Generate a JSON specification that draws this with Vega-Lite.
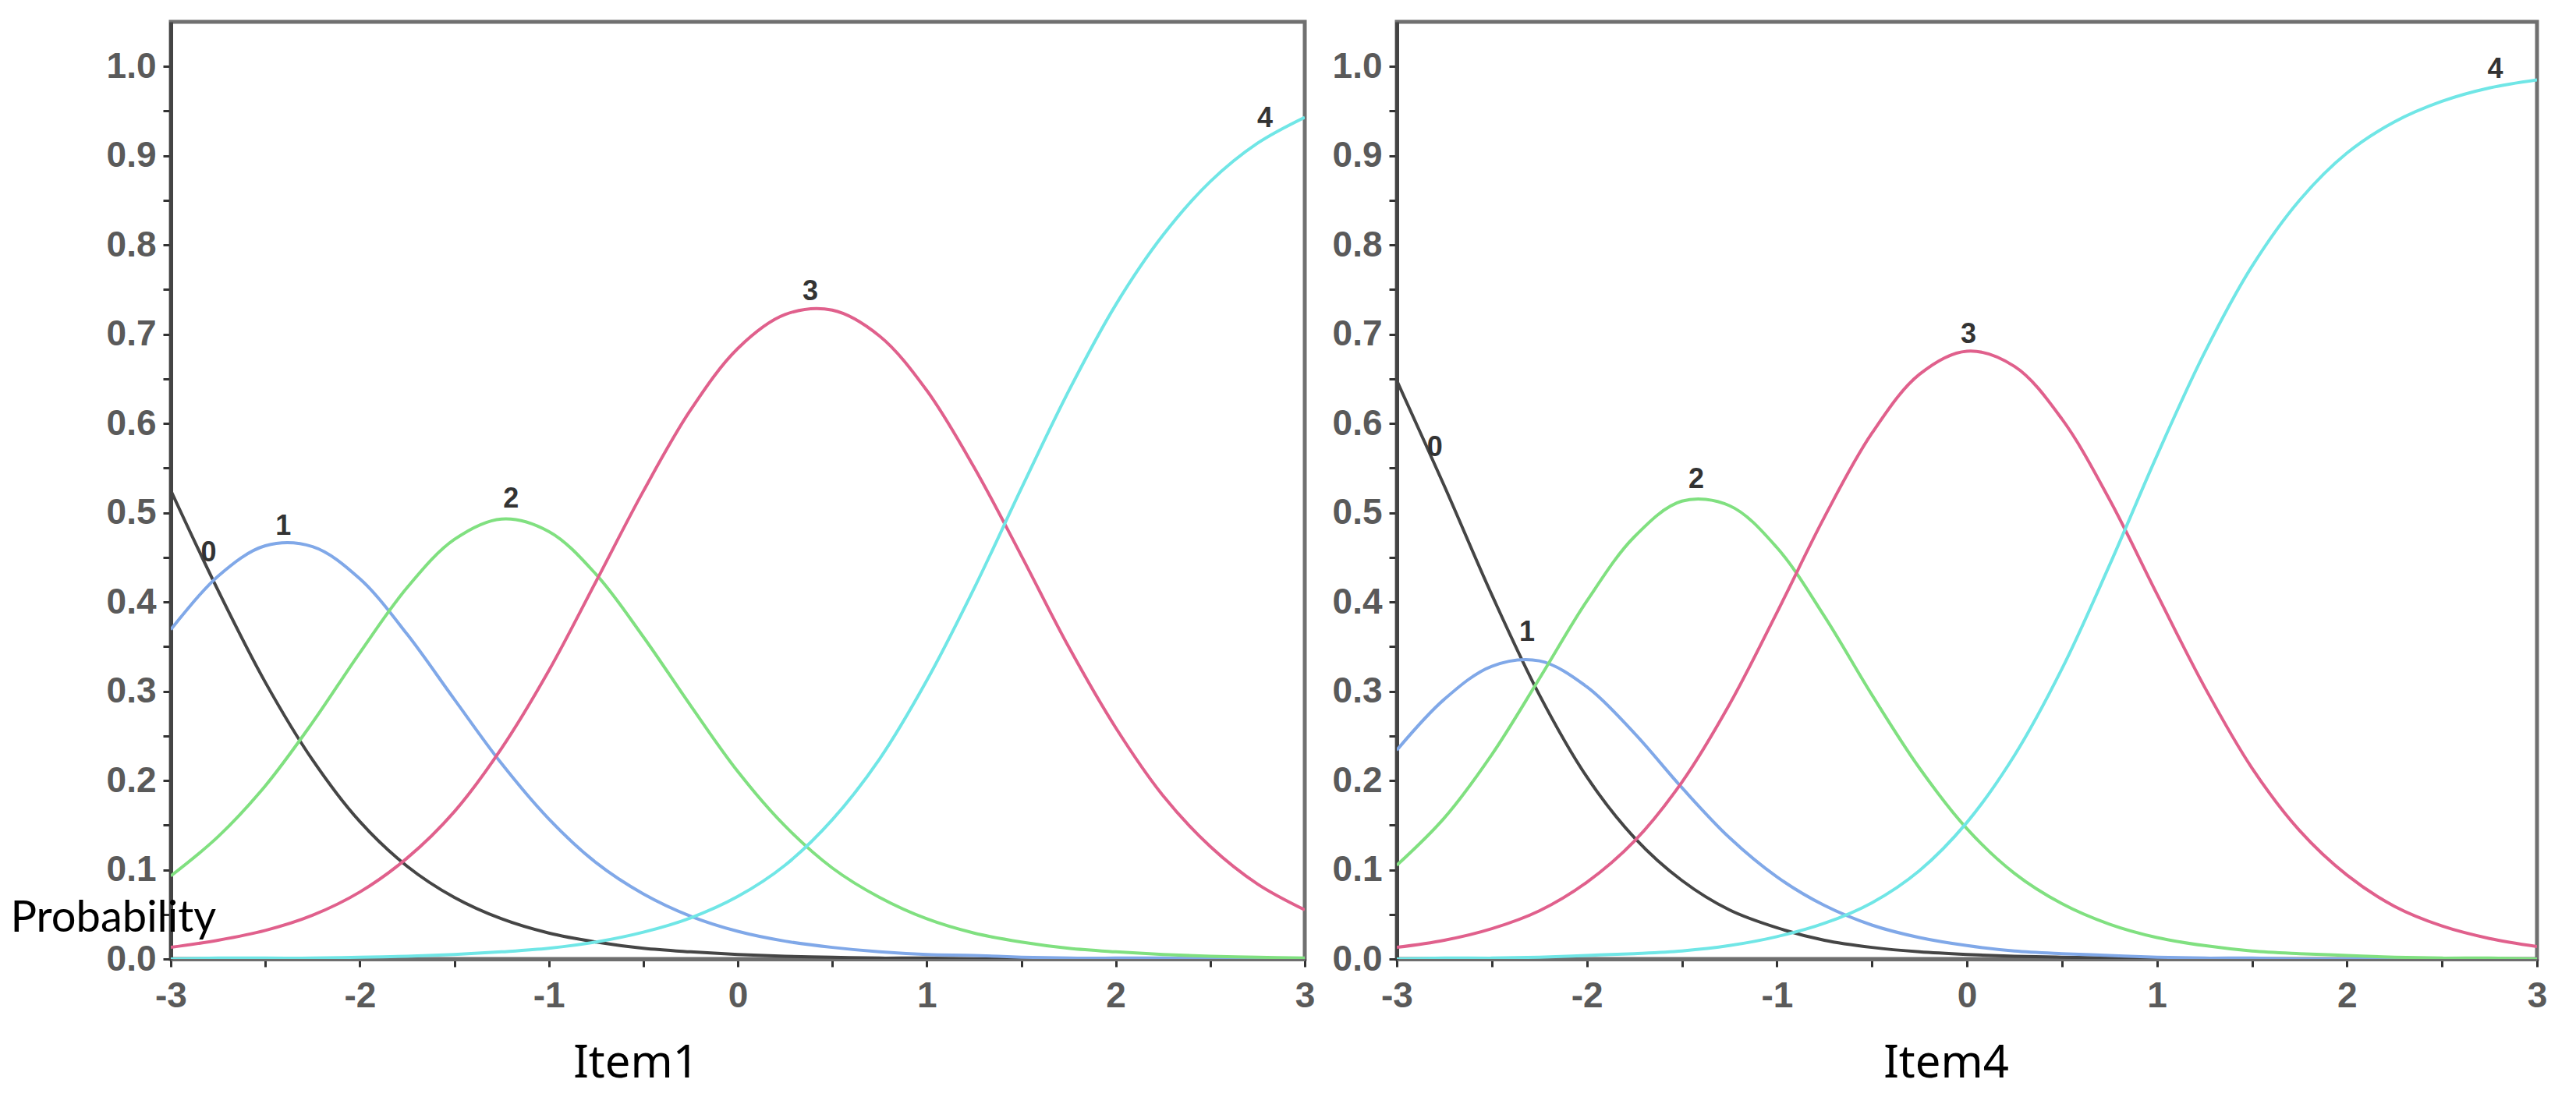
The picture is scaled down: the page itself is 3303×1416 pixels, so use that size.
{
  "$schema": "https://vega.github.io/schema/vega-lite/v6.json",
  "padding": {"left": 10, "top": 25, "right": 10, "bottom": 5},
  "autosize": {"type": "pad"},
  "background": "white",
  "spacing": 118,
  "bounds": "flush",
  "datasets": {
    "curves": [
      {"item":"Item1","cat":"0","theta":-3,"p":0.525},{"item":"Item1","cat":"0","theta":-2.75,"p":0.413},{"item":"Item1","cat":"0","theta":-2.5,"p":0.310},{"item":"Item1","cat":"0","theta":-2.25,"p":0.223},{"item":"Item1","cat":"0","theta":-2,"p":0.154},{"item":"Item1","cat":"0","theta":-1.75,"p":0.104},{"item":"Item1","cat":"0","theta":-1.5,"p":0.069},{"item":"Item1","cat":"0","theta":-1.25,"p":0.045},{"item":"Item1","cat":"0","theta":-1,"p":0.029},{"item":"Item1","cat":"0","theta":-0.75,"p":0.019},{"item":"Item1","cat":"0","theta":-0.5,"p":0.012},{"item":"Item1","cat":"0","theta":-0.25,"p":0.008},{"item":"Item1","cat":"0","theta":0,"p":0.005},{"item":"Item1","cat":"0","theta":0.25,"p":0.003},{"item":"Item1","cat":"0","theta":0.5,"p":0.002},{"item":"Item1","cat":"0","theta":0.75,"p":0.001},{"item":"Item1","cat":"0","theta":1,"p":0.001},{"item":"Item1","cat":"0","theta":1.25,"p":0.0},{"item":"Item1","cat":"0","theta":1.5,"p":0.0},{"item":"Item1","cat":"0","theta":1.75,"p":0.0},{"item":"Item1","cat":"0","theta":2,"p":0.0},{"item":"Item1","cat":"0","theta":2.25,"p":0.0},{"item":"Item1","cat":"0","theta":2.5,"p":0.0},{"item":"Item1","cat":"0","theta":2.75,"p":0.0},{"item":"Item1","cat":"0","theta":3,"p":0.0},
      {"item":"Item1","cat":"1","theta":-3,"p":0.369},{"item":"Item1","cat":"1","theta":-2.75,"p":0.429},{"item":"Item1","cat":"1","theta":-2.5,"p":0.463},{"item":"Item1","cat":"1","theta":-2.25,"p":0.462},{"item":"Item1","cat":"1","theta":-2,"p":0.426},{"item":"Item1","cat":"1","theta":-1.75,"p":0.364},{"item":"Item1","cat":"1","theta":-1.5,"p":0.291},{"item":"Item1","cat":"1","theta":-1.25,"p":0.219},{"item":"Item1","cat":"1","theta":-1,"p":0.157},{"item":"Item1","cat":"1","theta":-0.75,"p":0.108},{"item":"Item1","cat":"1","theta":-0.5,"p":0.073},{"item":"Item1","cat":"1","theta":-0.25,"p":0.048},{"item":"Item1","cat":"1","theta":0,"p":0.031},{"item":"Item1","cat":"1","theta":0.25,"p":0.020},{"item":"Item1","cat":"1","theta":0.5,"p":0.013},{"item":"Item1","cat":"1","theta":0.75,"p":0.008},{"item":"Item1","cat":"1","theta":1,"p":0.005},{"item":"Item1","cat":"1","theta":1.25,"p":0.004},{"item":"Item1","cat":"1","theta":1.5,"p":0.002},{"item":"Item1","cat":"1","theta":1.75,"p":0.001},{"item":"Item1","cat":"1","theta":2,"p":0.001},{"item":"Item1","cat":"1","theta":2.25,"p":0.001},{"item":"Item1","cat":"1","theta":2.5,"p":0.0},{"item":"Item1","cat":"1","theta":2.75,"p":0.0},{"item":"Item1","cat":"1","theta":3,"p":0.0},
      {"item":"Item1","cat":"2","theta":-3,"p":0.093},{"item":"Item1","cat":"2","theta":-2.75,"p":0.137},{"item":"Item1","cat":"2","theta":-2.5,"p":0.194},{"item":"Item1","cat":"2","theta":-2.25,"p":0.265},{"item":"Item1","cat":"2","theta":-2,"p":0.343},{"item":"Item1","cat":"2","theta":-1.75,"p":0.416},{"item":"Item1","cat":"2","theta":-1.5,"p":0.470},{"item":"Item1","cat":"2","theta":-1.25,"p":0.493},{"item":"Item1","cat":"2","theta":-1,"p":0.479},{"item":"Item1","cat":"2","theta":-0.75,"p":0.431},{"item":"Item1","cat":"2","theta":-0.5,"p":0.361},{"item":"Item1","cat":"2","theta":-0.25,"p":0.284},{"item":"Item1","cat":"2","theta":0,"p":0.210},{"item":"Item1","cat":"2","theta":0.25,"p":0.149},{"item":"Item1","cat":"2","theta":0.5,"p":0.102},{"item":"Item1","cat":"2","theta":0.75,"p":0.069},{"item":"Item1","cat":"2","theta":1,"p":0.045},{"item":"Item1","cat":"2","theta":1.25,"p":0.029},{"item":"Item1","cat":"2","theta":1.5,"p":0.019},{"item":"Item1","cat":"2","theta":1.75,"p":0.012},{"item":"Item1","cat":"2","theta":2,"p":0.008},{"item":"Item1","cat":"2","theta":2.25,"p":0.005},{"item":"Item1","cat":"2","theta":2.5,"p":0.003},{"item":"Item1","cat":"2","theta":2.75,"p":0.002},{"item":"Item1","cat":"2","theta":3,"p":0.001},
      {"item":"Item1","cat":"3","theta":-3,"p":0.013},{"item":"Item1","cat":"3","theta":-2.75,"p":0.021},{"item":"Item1","cat":"3","theta":-2.5,"p":0.032},{"item":"Item1","cat":"3","theta":-2.25,"p":0.049},{"item":"Item1","cat":"3","theta":-2,"p":0.075},{"item":"Item1","cat":"3","theta":-1.75,"p":0.113},{"item":"Item1","cat":"3","theta":-1.5,"p":0.165},{"item":"Item1","cat":"3","theta":-1.25,"p":0.236},{"item":"Item1","cat":"3","theta":-1,"p":0.323},{"item":"Item1","cat":"3","theta":-0.75,"p":0.423},{"item":"Item1","cat":"3","theta":-0.5,"p":0.524},{"item":"Item1","cat":"3","theta":-0.25,"p":0.615},{"item":"Item1","cat":"3","theta":0,"p":0.684},{"item":"Item1","cat":"3","theta":0.25,"p":0.722},{"item":"Item1","cat":"3","theta":0.5,"p":0.727},{"item":"Item1","cat":"3","theta":0.75,"p":0.698},{"item":"Item1","cat":"3","theta":1,"p":0.637},{"item":"Item1","cat":"3","theta":1.25,"p":0.551},{"item":"Item1","cat":"3","theta":1.5,"p":0.452},{"item":"Item1","cat":"3","theta":1.75,"p":0.350},{"item":"Item1","cat":"3","theta":2,"p":0.259},{"item":"Item1","cat":"3","theta":2.25,"p":0.183},{"item":"Item1","cat":"3","theta":2.5,"p":0.126},{"item":"Item1","cat":"3","theta":2.75,"p":0.084},{"item":"Item1","cat":"3","theta":3,"p":0.055},
      {"item":"Item1","cat":"4","theta":-3,"p":0.0},{"item":"Item1","cat":"4","theta":-2.75,"p":0.001},{"item":"Item1","cat":"4","theta":-2.5,"p":0.001},{"item":"Item1","cat":"4","theta":-2.25,"p":0.001},{"item":"Item1","cat":"4","theta":-2,"p":0.002},{"item":"Item1","cat":"4","theta":-1.75,"p":0.003},{"item":"Item1","cat":"4","theta":-1.5,"p":0.005},{"item":"Item1","cat":"4","theta":-1.25,"p":0.008},{"item":"Item1","cat":"4","theta":-1,"p":0.012},{"item":"Item1","cat":"4","theta":-0.75,"p":0.019},{"item":"Item1","cat":"4","theta":-0.5,"p":0.030},{"item":"Item1","cat":"4","theta":-0.25,"p":0.046},{"item":"Item1","cat":"4","theta":0,"p":0.070},{"item":"Item1","cat":"4","theta":0.25,"p":0.105},{"item":"Item1","cat":"4","theta":0.5,"p":0.156},{"item":"Item1","cat":"4","theta":0.75,"p":0.224},{"item":"Item1","cat":"4","theta":1,"p":0.312},{"item":"Item1","cat":"4","theta":1.25,"p":0.415},{"item":"Item1","cat":"4","theta":1.5,"p":0.527},{"item":"Item1","cat":"4","theta":1.75,"p":0.636},{"item":"Item1","cat":"4","theta":2,"p":0.733},{"item":"Item1","cat":"4","theta":2.25,"p":0.811},{"item":"Item1","cat":"4","theta":2.5,"p":0.871},{"item":"Item1","cat":"4","theta":2.75,"p":0.914},{"item":"Item1","cat":"4","theta":3,"p":0.943},
      {"item":"Item4","cat":"0","theta":-3,"p":0.648},{"item":"Item4","cat":"0","theta":-2.75,"p":0.530},{"item":"Item4","cat":"0","theta":-2.5,"p":0.408},{"item":"Item4","cat":"0","theta":-2.25,"p":0.296},{"item":"Item4","cat":"0","theta":-2,"p":0.204},{"item":"Item4","cat":"0","theta":-1.75,"p":0.136},{"item":"Item4","cat":"0","theta":-1.5,"p":0.088},{"item":"Item4","cat":"0","theta":-1.25,"p":0.055},{"item":"Item4","cat":"0","theta":-1,"p":0.035},{"item":"Item4","cat":"0","theta":-0.75,"p":0.021},{"item":"Item4","cat":"0","theta":-0.5,"p":0.013},{"item":"Item4","cat":"0","theta":-0.25,"p":0.008},{"item":"Item4","cat":"0","theta":0,"p":0.005},{"item":"Item4","cat":"0","theta":0.25,"p":0.003},{"item":"Item4","cat":"0","theta":0.5,"p":0.002},{"item":"Item4","cat":"0","theta":0.75,"p":0.001},{"item":"Item4","cat":"0","theta":1,"p":0.001},{"item":"Item4","cat":"0","theta":1.25,"p":0.0},{"item":"Item4","cat":"0","theta":1.5,"p":0.0},{"item":"Item4","cat":"0","theta":1.75,"p":0.0},{"item":"Item4","cat":"0","theta":2,"p":0.0},{"item":"Item4","cat":"0","theta":2.25,"p":0.0},{"item":"Item4","cat":"0","theta":2.5,"p":0.0},{"item":"Item4","cat":"0","theta":2.75,"p":0.0},{"item":"Item4","cat":"0","theta":3,"p":0.0},
      {"item":"Item4","cat":"1","theta":-3,"p":0.234},{"item":"Item4","cat":"1","theta":-2.75,"p":0.291},{"item":"Item4","cat":"1","theta":-2.5,"p":0.328},{"item":"Item4","cat":"1","theta":-2.25,"p":0.334},{"item":"Item4","cat":"1","theta":-2,"p":0.305},{"item":"Item4","cat":"1","theta":-1.75,"p":0.253},{"item":"Item4","cat":"1","theta":-1.5,"p":0.192},{"item":"Item4","cat":"1","theta":-1.25,"p":0.136},{"item":"Item4","cat":"1","theta":-1,"p":0.092},{"item":"Item4","cat":"1","theta":-0.75,"p":0.060},{"item":"Item4","cat":"1","theta":-0.5,"p":0.038},{"item":"Item4","cat":"1","theta":-0.25,"p":0.024},{"item":"Item4","cat":"1","theta":0,"p":0.015},{"item":"Item4","cat":"1","theta":0.25,"p":0.009},{"item":"Item4","cat":"1","theta":0.5,"p":0.006},{"item":"Item4","cat":"1","theta":0.75,"p":0.004},{"item":"Item4","cat":"1","theta":1,"p":0.002},{"item":"Item4","cat":"1","theta":1.25,"p":0.001},{"item":"Item4","cat":"1","theta":1.5,"p":0.001},{"item":"Item4","cat":"1","theta":1.75,"p":0.0},{"item":"Item4","cat":"1","theta":2,"p":0.0},{"item":"Item4","cat":"1","theta":2.25,"p":0.0},{"item":"Item4","cat":"1","theta":2.5,"p":0.0},{"item":"Item4","cat":"1","theta":2.75,"p":0.0},{"item":"Item4","cat":"1","theta":3,"p":0.0},
      {"item":"Item4","cat":"2","theta":-3,"p":0.105},{"item":"Item4","cat":"2","theta":-2.75,"p":0.158},{"item":"Item4","cat":"2","theta":-2.5,"p":0.229},{"item":"Item4","cat":"2","theta":-2.25,"p":0.314},{"item":"Item4","cat":"2","theta":-2,"p":0.401},{"item":"Item4","cat":"2","theta":-1.75,"p":0.473},{"item":"Item4","cat":"2","theta":-1.5,"p":0.513},{"item":"Item4","cat":"2","theta":-1.25,"p":0.508},{"item":"Item4","cat":"2","theta":-1,"p":0.461},{"item":"Item4","cat":"2","theta":-0.75,"p":0.384},{"item":"Item4","cat":"2","theta":-0.5,"p":0.296},{"item":"Item4","cat":"2","theta":-0.25,"p":0.214},{"item":"Item4","cat":"2","theta":0,"p":0.146},{"item":"Item4","cat":"2","theta":0.25,"p":0.096},{"item":"Item4","cat":"2","theta":0.5,"p":0.062},{"item":"Item4","cat":"2","theta":0.75,"p":0.039},{"item":"Item4","cat":"2","theta":1,"p":0.024},{"item":"Item4","cat":"2","theta":1.25,"p":0.015},{"item":"Item4","cat":"2","theta":1.5,"p":0.009},{"item":"Item4","cat":"2","theta":1.75,"p":0.006},{"item":"Item4","cat":"2","theta":2,"p":0.004},{"item":"Item4","cat":"2","theta":2.25,"p":0.002},{"item":"Item4","cat":"2","theta":2.5,"p":0.001},{"item":"Item4","cat":"2","theta":2.75,"p":0.001},{"item":"Item4","cat":"2","theta":3,"p":0.0},
      {"item":"Item4","cat":"3","theta":-3,"p":0.013},{"item":"Item4","cat":"3","theta":-2.75,"p":0.021},{"item":"Item4","cat":"3","theta":-2.5,"p":0.034},{"item":"Item4","cat":"3","theta":-2.25,"p":0.054},{"item":"Item4","cat":"3","theta":-2,"p":0.086},{"item":"Item4","cat":"3","theta":-1.75,"p":0.132},{"item":"Item4","cat":"3","theta":-1.5,"p":0.198},{"item":"Item4","cat":"3","theta":-1.25,"p":0.285},{"item":"Item4","cat":"3","theta":-1,"p":0.388},{"item":"Item4","cat":"3","theta":-0.75,"p":0.495},{"item":"Item4","cat":"3","theta":-0.5,"p":0.589},{"item":"Item4","cat":"3","theta":-0.25,"p":0.655},{"item":"Item4","cat":"3","theta":0,"p":0.681},{"item":"Item4","cat":"3","theta":0.25,"p":0.664},{"item":"Item4","cat":"3","theta":0.5,"p":0.605},{"item":"Item4","cat":"3","theta":0.75,"p":0.515},{"item":"Item4","cat":"3","theta":1,"p":0.409},{"item":"Item4","cat":"3","theta":1.25,"p":0.305},{"item":"Item4","cat":"3","theta":1.5,"p":0.214},{"item":"Item4","cat":"3","theta":1.75,"p":0.144},{"item":"Item4","cat":"3","theta":2,"p":0.094},{"item":"Item4","cat":"3","theta":2.25,"p":0.059},{"item":"Item4","cat":"3","theta":2.5,"p":0.037},{"item":"Item4","cat":"3","theta":2.75,"p":0.023},{"item":"Item4","cat":"3","theta":3,"p":0.014},
      {"item":"Item4","cat":"4","theta":-3,"p":0.0},{"item":"Item4","cat":"4","theta":-2.75,"p":0.001},{"item":"Item4","cat":"4","theta":-2.5,"p":0.001},{"item":"Item4","cat":"4","theta":-2.25,"p":0.002},{"item":"Item4","cat":"4","theta":-2,"p":0.004},{"item":"Item4","cat":"4","theta":-1.75,"p":0.006},{"item":"Item4","cat":"4","theta":-1.5,"p":0.009},{"item":"Item4","cat":"4","theta":-1.25,"p":0.015},{"item":"Item4","cat":"4","theta":-1,"p":0.025},{"item":"Item4","cat":"4","theta":-0.75,"p":0.040},{"item":"Item4","cat":"4","theta":-0.5,"p":0.063},{"item":"Item4","cat":"4","theta":-0.25,"p":0.099},{"item":"Item4","cat":"4","theta":0,"p":0.153},{"item":"Item4","cat":"4","theta":0.25,"p":0.228},{"item":"Item4","cat":"4","theta":0.5,"p":0.325},{"item":"Item4","cat":"4","theta":0.75,"p":0.441},{"item":"Item4","cat":"4","theta":1,"p":0.564},{"item":"Item4","cat":"4","theta":1.25,"p":0.679},{"item":"Item4","cat":"4","theta":1.5,"p":0.776},{"item":"Item4","cat":"4","theta":1.75,"p":0.850},{"item":"Item4","cat":"4","theta":2,"p":0.903},{"item":"Item4","cat":"4","theta":2.25,"p":0.938},{"item":"Item4","cat":"4","theta":2.5,"p":0.961},{"item":"Item4","cat":"4","theta":2.75,"p":0.976},{"item":"Item4","cat":"4","theta":3,"p":0.985}
    ],
    "labels": [
      {"item":"Item1","cat":"0","theta":-2.8,"p":0.455},
      {"item":"Item1","cat":"1","theta":-2.405,"p":0.485},
      {"item":"Item1","cat":"2","theta":-1.2,"p":0.515},
      {"item":"Item1","cat":"3","theta":0.384,"p":0.748},
      {"item":"Item1","cat":"4","theta":2.79,"p":0.942},
      {"item":"Item4","cat":"0","theta":-2.8,"p":0.573},
      {"item":"Item4","cat":"1","theta":-2.315,"p":0.366},
      {"item":"Item4","cat":"2","theta":-1.424,"p":0.537},
      {"item":"Item4","cat":"3","theta":0.008,"p":0.70},
      {"item":"Item4","cat":"4","theta":2.78,"p":0.997}
    ]
  },
  "hconcat": [
    {
      "width": 1454,
      "height": 1202,
      "layer": [
        {
          "data": {"name": "curves"},
          "transform": [{"filter": "datum.item == 'Item1'"}],
          "mark": {"type": "line", "interpolate": "catmull-rom", "strokeWidth": 4, "clip": true},
          "encoding": {
            "x": {
              "field": "theta", "type": "quantitative",
              "scale": {"domain": [-3, 3], "nice": false, "zero": false},
              "axis": {
                "values": [-3, -2.5, -2, -1.5, -1, -0.5, 0, 0.5, 1, 1.5, 2, 2.5, 3],
                "labelExpr": "datum.value == round(datum.value) ? '' + datum.value : ''",
                "title": "Item1", "titleX": 596, "titleY": 151, "titleAlign": "center", "titleBaseline": "alphabetic"
              }
            },
            "y": {
              "field": "p", "type": "quantitative",
              "scale": {"domain": [0, 1.05], "nice": false},
              "axis": {
                "values": [0, 0.05, 0.1, 0.15, 0.2, 0.25, 0.3, 0.35, 0.4, 0.45, 0.5, 0.55, 0.6, 0.65, 0.7, 0.75, 0.8, 0.85, 0.9, 0.95, 1.0],
                "labelExpr": "round(datum.value * 20) % 2 == 0 ? format(datum.value, '.1f') : ''",
                "title": "Probability", "titleAngle": 0, "titleX": -206, "titleY": 1166, "titleAlign": "left", "titleBaseline": "alphabetic",
                "titleFont": "Lato", "titleFontSize": 56,
                "domainColor": "#444444"
              }
            },
            "color": {
              "field": "cat", "type": "nominal",
              "scale": {"domain": ["0", "1", "2", "3", "4"], "range": ["#454545", "#80a8e8", "#80e080", "#e0608c", "#70e6e6"]},
              "legend": null
            }
          }
        },
        {
          "data": {"name": "labels"},
          "transform": [{"filter": "datum.item == 'Item1'"}],
          "mark": {"type": "text", "font": "Liberation Sans", "fontSize": 36, "fontWeight": "bold", "color": "#333333", "baseline": "middle", "align": "center"},
          "encoding": {
            "x": {"field": "theta", "type": "quantitative"},
            "y": {"field": "p", "type": "quantitative"},
            "text": {"field": "cat", "type": "nominal"}
          }
        }
      ]
    },
    {
      "width": 1462,
      "height": 1202,
      "layer": [
        {
          "data": {"name": "curves"},
          "transform": [{"filter": "datum.item == 'Item4'"}],
          "mark": {"type": "line", "interpolate": "catmull-rom", "strokeWidth": 4, "clip": true},
          "encoding": {
            "x": {
              "field": "theta", "type": "quantitative",
              "scale": {"domain": [-3, 3], "nice": false, "zero": false},
              "axis": {
                "values": [-3, -2.5, -2, -1.5, -1, -0.5, 0, 0.5, 1, 1.5, 2, 2.5, 3],
                "labelExpr": "datum.value == round(datum.value) ? '' + datum.value : ''",
                "title": "Item4", "titleX": 704, "titleY": 151, "titleAlign": "center", "titleBaseline": "alphabetic"
              }
            },
            "y": {
              "field": "p", "type": "quantitative",
              "scale": {"domain": [0, 1.05], "nice": false},
              "axis": {
                "values": [0, 0.05, 0.1, 0.15, 0.2, 0.25, 0.3, 0.35, 0.4, 0.45, 0.5, 0.55, 0.6, 0.65, 0.7, 0.75, 0.8, 0.85, 0.9, 0.95, 1.0],
                "labelExpr": "round(datum.value * 20) % 2 == 0 ? format(datum.value, '.1f') : ''",
                "title": null,
                "domainColor": "#444444"
              }
            },
            "color": {
              "field": "cat", "type": "nominal",
              "scale": {"domain": ["0", "1", "2", "3", "4"], "range": ["#454545", "#80a8e8", "#80e080", "#e0608c", "#70e6e6"]},
              "legend": null
            }
          }
        },
        {
          "data": {"name": "labels"},
          "transform": [{"filter": "datum.item == 'Item4'"}],
          "mark": {"type": "text", "font": "Liberation Sans", "fontSize": 36, "fontWeight": "bold", "color": "#333333", "baseline": "middle", "align": "center"},
          "encoding": {
            "x": {"field": "theta", "type": "quantitative"},
            "y": {"field": "p", "type": "quantitative"},
            "text": {"field": "cat", "type": "nominal"}
          }
        }
      ]
    }
  ],
  "config": {
    "view": {"stroke": "#707070", "strokeWidth": 5},
    "axis": {
      "grid": false,
      "domain": true,
      "domainColor": "#6e6e6e",
      "domainWidth": 5,
      "ticks": true,
      "tickColor": "#333333",
      "tickSize": 10,
      "tickWidth": 3,
      "labelFont": "Liberation Sans",
      "labelFontSize": 46,
      "labelFontWeight": "bold",
      "labelColor": "#5a5a5a",
      "labelOverlap": false,
      "labelFlush": false,
      "labelBound": false,
      "titleFont": "Noto Sans",
      "titleFontSize": 58,
      "titleFontWeight": "normal",
      "titleColor": "#000000"
    },
    "axisX": {"labelPadding": 15},
    "axisY": {"labelPadding": 9}
  }
}
